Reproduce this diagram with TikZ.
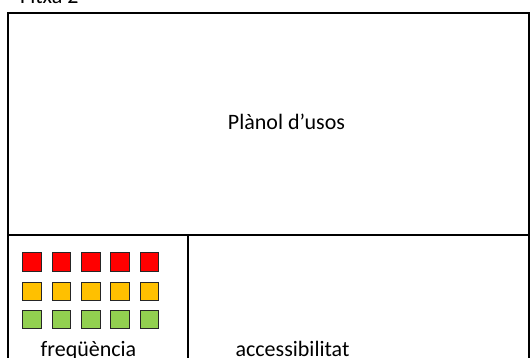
\documentclass[tikz,border=0pt]{standalone}
\usepackage{fontspec}
\setmainfont{Carlito}
\usepackage{tikz}
\definecolor{quadred}{HTML}{FF0000}
\definecolor{quadorange}{HTML}{FFC000}
\definecolor{quadgreen}{HTML}{92D050}
\tikzset{
  quad/.style={draw=black!85, line width=1pt, minimum size=18.5pt, inner sep=0pt},
  label text/.style={font=\fontsize{22}{26}\selectfont, inner sep=0pt, anchor=base}
}

\begin{document}
\begin{tikzpicture}[x=1pt, y=1pt]
  \useasboundingbox (0,0) rectangle (530,358);
  % frame
  \draw[line width=1.6pt] (8,-10) rectangle (529,345);
  \draw[line width=1.6pt] (8,123) -- (529,123);
  \draw[line width=1.6pt] (188,123) -- (188,-10);
  % squares
  \foreach \col/\y [count=\r] in {quadred/95.8, quadorange/66.3, quadgreen/38.3}
    \foreach \i in {0,...,4}
      \node[quad, fill=\col] (q-\r-\i) at (32.2+29.3*\i, \y) {};
  \node[label text, anchor=base west] (fitxa) at (20,354.5) {Fitxa 2};
  \node[label text] (plano) at (286.5,228) {Plànol d’usos};
  \node[label text] (freq) at (88.5,1) {freqüència};
  \node[label text] (access) at (292.5,1) {accessibilitat};
\end{tikzpicture}
\end{document}
